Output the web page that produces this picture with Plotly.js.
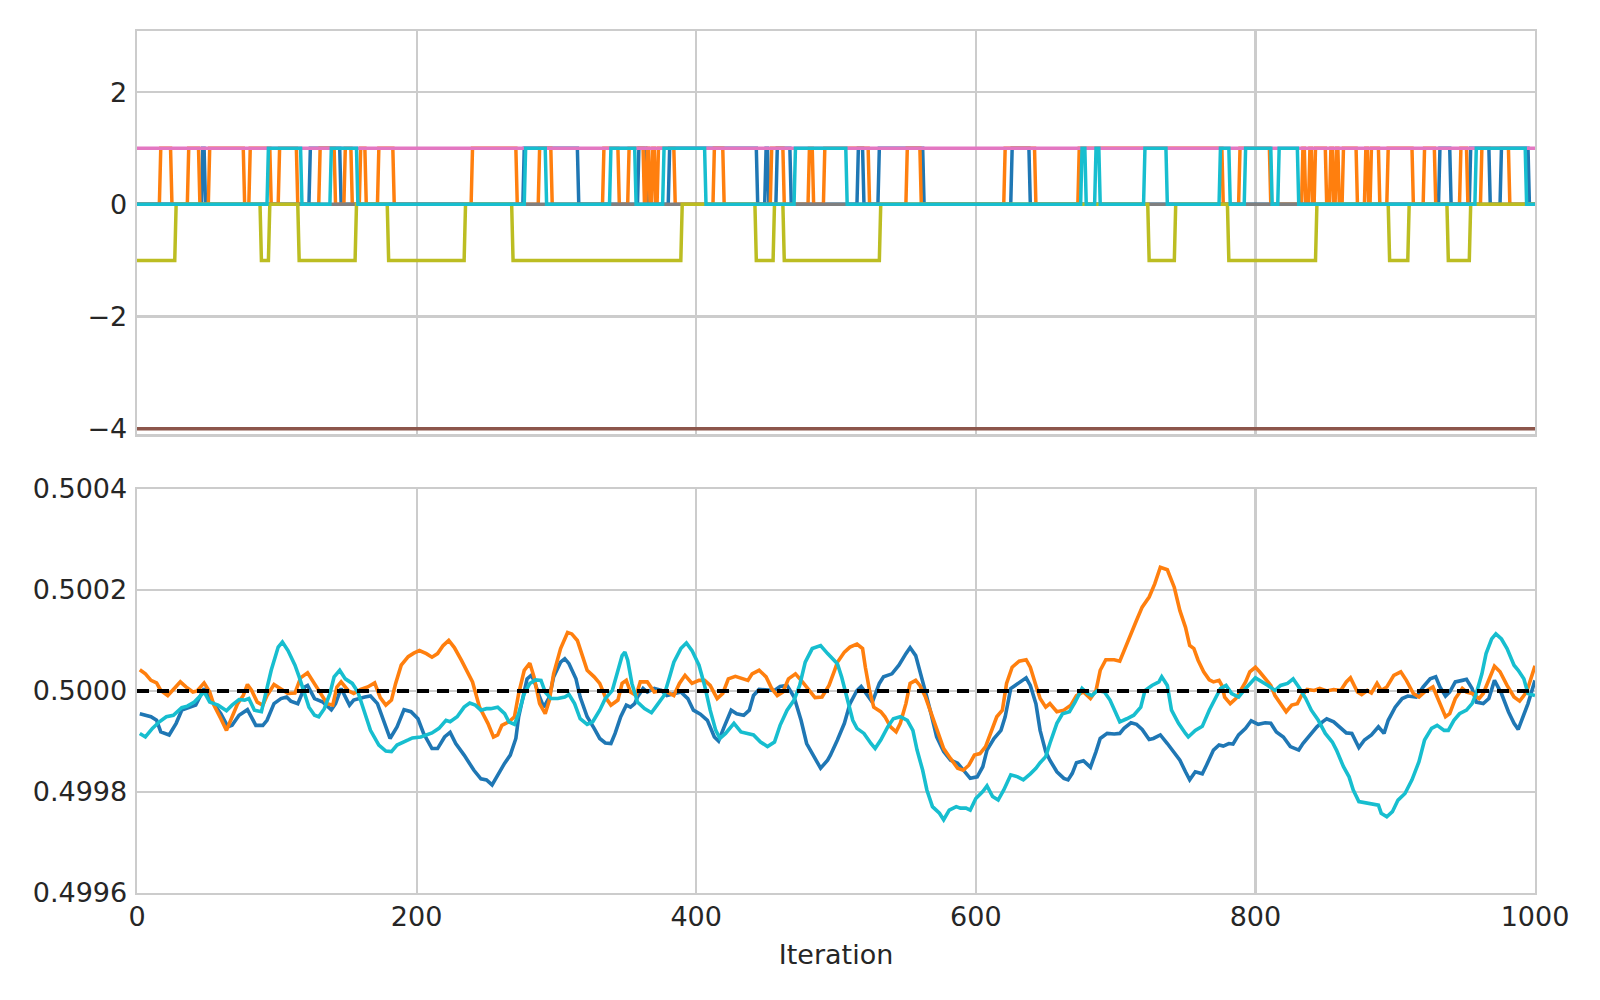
<!DOCTYPE html>
<html>
<head>
<meta charset="utf-8">
<script src="https://cdn.plot.ly/plotly-3.0.1.min.js"></script>
<style>html,body{margin:0;padding:0;background:#fff;}#chart{width:1600px;height:1000px;}</style>
</head>
<body>
<div id="chart"></div>
<script>
// ---------------- data ----------------
const nIter = 1000;
const xTickVals = [0, 200, 400, 600, 800, 1000];
const xTickText = ['0', '200', '400', '600', '800', '1000'];
const topTickVals = [-4, -2, 0, 2];
const topTickText = ['\u22124', '\u22122', '0', '2'];
const botTickVals = [0.4996, 0.4998, 0.5000, 0.5002, 0.5004];
const botTickText = ['0.4996', '0.4998', '0.5000', '0.5002', '0.5004'];
const xAxisTitle = 'Iteration';

// top panel: step chains
const blueFlips = [47, 49, 124, 146, 277, 316, 359, 365, 381, 444, 450, 452, 458, 468, 516, 520, 531, 563, 626, 639, 932, 940, 954, 968, 976, 996];
const orangeFlips = [17, 25, 37, 45, 52, 77, 81, 96, 102, 115, 131, 142, 149, 154, 160, 164, 173, 184, 240, 272, 288, 297, 334, 345, 352, 363, 365, 367, 369, 371, 373, 385, 413, 420, 454, 463, 481, 484, 492, 524, 551, 561, 621, 643, 674, 777, 789, 811, 834, 836, 839, 841, 843, 851, 854, 856, 858, 860, 863, 873, 879, 881, 883, 889, 895, 913, 921, 929, 947, 952, 962, 982];
const brownLevel = -4;
const pinkLevel = 1;
const grayLevel = 0;
const oliveLow = [[0, 27], [89, 94], [116, 156], [180, 234], [269, 389], [443, 455], [463, 531], [724, 742], [781, 843], [896, 909], [938, 953]];
const cyanHigh = [[94, 117], [139, 157], [278, 292], [339, 356], [377, 406], [471, 507], [676, 678], [686, 688], [721, 736], [775, 781], [793, 811], [817, 830], [958, 993]];

// bottom panel: running values
const blueIter = [2,10,14,17,23,28,32,40,42,48,53,60,65,68,73,79,85,90,93,98,103,107,110,115,120,122,127,133,139,142,146,152,155,163,167,172,177,181,186,191,196,201,205,211,215,220,224,228,234,241,246,250,254,258,263,267,271,273,276,279,282,284,288,291,295,298,303,306,309,314,317,322,327,331,335,339,342,346,350,353,356,358,362,365,370,375,379,384,389,394,398,403,408,413,416,420,425,429,434,438,441,445,451,456,460,465,470,475,479,484,489,494,496,501,506,510,515,518,521,526,531,534,540,545,550,553,557,560,564,568,572,577,582,587,591,596,601,605,608,613,618,621,625,630,636,639,643,646,650,653,658,663,666,669,672,677,682,686,689,694,699,703,706,711,715,719,724,727,732,737,742,746,750,753,757,762,765,770,774,777,781,784,788,793,797,802,807,811,815,820,825,831,834,839,844,848,851,856,861,865,869,874,878,883,888,892,895,900,905,909,915,920,925,929,932,936,939,943,948,951,955,958,963,967,971,976,981,985,988,992,995,1000];
const blueVal = [0.499955,0.499949,0.499942,0.499919,0.499913,0.499936,0.499962,0.499970,0.499972,0.500005,0.499982,0.499955,0.499929,0.499932,0.499952,0.499963,0.499932,0.499932,0.499942,0.499975,0.499985,0.499988,0.499980,0.499975,0.500008,0.500011,0.499985,0.499978,0.499963,0.499975,0.500005,0.499972,0.499982,0.499988,0.499990,0.499975,0.499936,0.499906,0.499929,0.499963,0.499959,0.499945,0.499916,0.499886,0.499886,0.499909,0.499918,0.499896,0.499873,0.499843,0.499826,0.499824,0.499814,0.499834,0.499857,0.499873,0.499906,0.499949,0.499991,0.500024,0.500031,0.500021,0.499988,0.499968,0.499988,0.500028,0.500057,0.500064,0.500054,0.500024,0.499988,0.499949,0.499926,0.499906,0.499897,0.499896,0.499916,0.499949,0.499972,0.499968,0.499975,0.499988,0.500005,0.499998,0.500005,0.500001,0.499991,0.499995,0.499998,0.499985,0.499962,0.499954,0.499942,0.499909,0.499901,0.499929,0.499962,0.499955,0.499952,0.499962,0.499991,0.500003,0.500001,0.500001,0.500009,0.500011,0.499988,0.499942,0.499896,0.499870,0.499847,0.499863,0.499873,0.499903,0.499936,0.499975,0.500001,0.500009,0.499998,0.499978,0.500015,0.500028,0.500034,0.500051,0.500074,0.500086,0.500070,0.500041,0.499998,0.499955,0.499909,0.499880,0.499863,0.499857,0.499843,0.499827,0.499830,0.499850,0.499883,0.499906,0.499922,0.499949,0.500005,0.500015,0.500026,0.500011,0.499975,0.499922,0.499880,0.499863,0.499840,0.499827,0.499824,0.499837,0.499858,0.499862,0.499849,0.499880,0.499906,0.499916,0.499915,0.499916,0.499926,0.499937,0.499934,0.499924,0.499904,0.499906,0.499913,0.499896,0.499876,0.499863,0.499840,0.499824,0.499840,0.499836,0.499853,0.499883,0.499893,0.499891,0.499896,0.499895,0.499913,0.499926,0.499941,0.499934,0.499937,0.499936,0.499919,0.499909,0.499890,0.499883,0.499896,0.499913,0.499929,0.499939,0.499945,0.499939,0.499926,0.499917,0.499916,0.499888,0.499903,0.499913,0.499929,0.499916,0.499942,0.499968,0.499985,0.499990,0.499988,0.500008,0.500024,0.500028,0.500008,0.499990,0.499998,0.500018,0.500021,0.500023,0.500005,0.499978,0.499975,0.499985,0.500021,0.499995,0.499959,0.499936,0.499924,0.499952,0.499975,0.500021];

const orangeIter = [2,6,10,14,17,22,26,31,35,40,43,48,52,55,60,64,67,72,76,79,82,86,90,93,98,103,108,113,117,122,127,132,136,140,143,146,151,155,160,165,170,174,178,182,185,189,194,198,202,207,211,215,219,223,227,232,236,240,245,251,255,258,261,266,270,273,277,281,284,288,292,295,298,303,308,311,315,319,322,327,331,335,339,344,347,350,353,357,360,365,370,375,379,384,388,392,397,402,406,410,415,419,423,428,433,437,440,445,450,454,458,462,466,471,476,481,485,490,495,499,501,506,510,515,519,521,524,527,532,535,539,543,546,550,553,557,560,564,568,572,577,582,587,591,595,599,603,607,611,615,619,622,626,631,636,639,643,646,650,653,658,663,668,672,677,682,686,689,693,699,703,707,711,715,719,724,728,732,737,742,746,750,753,756,759,763,767,770,774,776,778,782,786,789,793,796,800,803,807,811,814,818,822,826,830,833,837,842,846,851,856,861,865,868,873,876,880,883,887,890,894,899,904,908,913,917,921,927,931,936,939,943,948,951,955,960,963,967,971,975,980,985,989,994,998,1000];
const orangeVal = [0.500042,0.500034,0.500021,0.500016,0.500001,0.499991,0.500003,0.500018,0.500008,0.499998,0.500000,0.500016,0.499998,0.499972,0.499945,0.499922,0.499942,0.499975,0.499991,0.500013,0.500001,0.499978,0.499972,0.499991,0.500013,0.500003,0.499995,0.499996,0.500026,0.500036,0.500015,0.499991,0.499975,0.499972,0.500008,0.500018,0.500001,0.499995,0.500003,0.500008,0.500016,0.499987,0.499972,0.499982,0.500015,0.500051,0.500068,0.500075,0.500080,0.500074,0.500067,0.500074,0.500090,0.500100,0.500086,0.500061,0.500038,0.500018,0.499968,0.499936,0.499909,0.499913,0.499932,0.499939,0.499949,0.499995,0.500041,0.500055,0.500028,0.499975,0.499955,0.499982,0.500034,0.500084,0.500116,0.500113,0.500100,0.500067,0.500041,0.500028,0.500015,0.499988,0.499972,0.499982,0.500015,0.500021,0.499998,0.499991,0.500018,0.500018,0.499998,0.500001,0.499998,0.499991,0.500015,0.500031,0.500015,0.500021,0.500021,0.500011,0.499985,0.499995,0.500024,0.500029,0.500024,0.500021,0.500034,0.500041,0.500028,0.500005,0.499991,0.499998,0.500024,0.500034,0.500018,0.500000,0.499987,0.499988,0.500011,0.500041,0.500057,0.500077,0.500087,0.500093,0.500084,0.500047,0.500001,0.499968,0.499959,0.499949,0.499929,0.499919,0.499936,0.499975,0.500015,0.500021,0.500011,0.499988,0.499955,0.499922,0.499886,0.499866,0.499847,0.499843,0.499853,0.499873,0.499876,0.499890,0.499922,0.499949,0.499962,0.500015,0.500047,0.500059,0.500062,0.500047,0.500011,0.499985,0.499968,0.499975,0.499959,0.499962,0.499972,0.499991,0.499998,0.499985,0.500001,0.500041,0.500062,0.500062,0.500059,0.500087,0.500113,0.500140,0.500166,0.500186,0.500212,0.500245,0.500240,0.500205,0.500159,0.500126,0.500090,0.500084,0.500061,0.500038,0.500022,0.500018,0.500021,0.500011,0.499988,0.499975,0.499985,0.499998,0.500018,0.500038,0.500047,0.500038,0.500024,0.500011,0.499991,0.499975,0.499959,0.499972,0.499975,0.499991,0.500003,0.500001,0.500005,0.500000,0.500003,0.500001,0.500018,0.500026,0.499998,0.499993,0.500001,0.499996,0.500015,0.500001,0.500008,0.500031,0.500038,0.500021,0.499995,0.499988,0.499998,0.500008,0.499982,0.499949,0.499955,0.499985,0.500005,0.499998,0.499995,0.499985,0.499995,0.500021,0.500049,0.500038,0.500011,0.499988,0.499980,0.499998,0.500034,0.500050];

const cyanIter = [2,6,11,16,21,26,32,36,41,45,48,52,58,64,68,73,77,80,84,89,92,96,101,104,108,113,116,120,123,127,130,134,138,141,145,149,154,158,163,167,173,178,182,186,194,197,203,208,211,216,221,224,229,234,238,242,246,250,253,258,263,266,270,273,277,281,285,289,292,296,301,306,309,313,317,322,326,331,335,340,344,347,349,351,354,358,363,368,372,377,381,384,389,393,397,402,406,410,414,417,421,427,432,437,441,446,451,456,460,465,470,474,478,483,489,494,497,501,504,508,512,515,520,525,528,532,537,541,546,551,555,558,562,565,569,574,577,581,586,589,593,596,600,605,608,612,616,620,625,630,634,639,643,646,650,653,658,662,667,671,676,680,683,687,692,696,700,703,708,713,718,721,726,731,733,737,740,745,750,752,757,762,767,771,775,779,783,788,793,800,805,809,814,818,823,827,831,836,840,845,850,855,858,863,867,870,874,879,883,888,890,894,898,902,907,912,917,921,926,930,935,938,942,946,951,955,958,962,965,969,972,976,980,985,988,992,995,1000];
const cyanVal = [0.499916,0.499909,0.499926,0.499939,0.499949,0.499952,0.499967,0.499970,0.499978,0.499990,0.499998,0.499978,0.499972,0.499961,0.499972,0.499983,0.499982,0.499985,0.499962,0.499959,0.499995,0.500041,0.500087,0.500097,0.500080,0.500051,0.500028,0.499995,0.499968,0.499952,0.499949,0.499965,0.499995,0.500028,0.500041,0.500024,0.500015,0.499998,0.499955,0.499922,0.499893,0.499881,0.499880,0.499893,0.499903,0.499907,0.499909,0.499913,0.499917,0.499926,0.499942,0.499939,0.499949,0.499968,0.499976,0.499972,0.499962,0.499965,0.499965,0.499968,0.499955,0.499939,0.499934,0.499955,0.499995,0.500015,0.500022,0.500021,0.499998,0.499985,0.499985,0.499988,0.499993,0.499975,0.499945,0.499934,0.499939,0.499962,0.499985,0.500001,0.500041,0.500070,0.500077,0.500061,0.500015,0.499978,0.499965,0.499957,0.499972,0.499991,0.500028,0.500057,0.500084,0.500095,0.500080,0.500051,0.500011,0.499962,0.499922,0.499906,0.499916,0.499936,0.499919,0.499916,0.499913,0.499899,0.499890,0.499899,0.499932,0.499962,0.499982,0.500011,0.500057,0.500084,0.500090,0.500074,0.500066,0.500054,0.500028,0.499982,0.499942,0.499926,0.499916,0.499896,0.499886,0.499903,0.499929,0.499945,0.499949,0.499942,0.499922,0.499883,0.499843,0.499804,0.499771,0.499758,0.499745,0.499764,0.499771,0.499768,0.499768,0.499764,0.499787,0.499801,0.499812,0.499791,0.499784,0.499804,0.499834,0.499830,0.499824,0.499836,0.499847,0.499858,0.499870,0.499896,0.499936,0.499955,0.499959,0.499978,0.500005,0.499995,0.499991,0.500001,0.499998,0.499982,0.499955,0.499939,0.499945,0.499952,0.499968,0.500001,0.500011,0.500018,0.500028,0.500011,0.499962,0.499936,0.499916,0.499909,0.499922,0.499930,0.499962,0.499982,0.500005,0.500011,0.499995,0.499988,0.500005,0.500026,0.500018,0.500011,0.500001,0.500011,0.500015,0.500024,0.500008,0.499985,0.499962,0.499942,0.499916,0.499899,0.499883,0.499850,0.499830,0.499804,0.499781,0.499778,0.499776,0.499774,0.499758,0.499751,0.499761,0.499784,0.499797,0.499824,0.499860,0.499903,0.499926,0.499932,0.499922,0.499922,0.499942,0.499955,0.499962,0.499975,0.499995,0.500034,0.500074,0.500103,0.500113,0.500103,0.500084,0.500051,0.500041,0.500024,0.499995,0.499991];

const referenceValue = 0.5;

// ---------------- build step arrays from the read-off transitions ----------------
const iters = [];
for (let i = 0; i <= nIter; i++) iters.push(i);

function fromFlips(flips, lo, hi) {
  const out = [];
  let k = 0, state = lo;
  for (const i of iters) {
    while (k < flips.length && flips[k] <= i) { state = (state === lo) ? hi : lo; k++; }
    out.push(state);
  }
  return out;
}
function fromIntervals(intervals, inside, outside) {
  return iters.map(i => intervals.some(([a, b]) => i >= a && i <= b) ? inside : outside);
}
const constant = v => iters.map(() => v);

const C = {
  blue: '#1f77b4', orange: '#ff7f0e', brown: '#8c564b', pink: '#e377c2',
  gray: '#7f7f7f', olive: '#bcbd22', cyan: '#17becf'
};
const wTop = 3.5, wBot = 3.6;

function stepTrace(y, color) {
  return { x: iters, y: y, xaxis: 'x2', yaxis: 'y2', type: 'scatter', mode: 'lines',
           line: { color: color, width: wTop }, hoverinfo: 'skip' };
}
function lineTrace(x, y, color) {
  return { x: x, y: y, xaxis: 'x', yaxis: 'y', type: 'scatter', mode: 'lines',
           line: { color: color, width: wBot }, hoverinfo: 'skip' };
}

const traces = [
  stepTrace(fromFlips(blueFlips, 0, 1), C.blue),
  stepTrace(fromFlips(orangeFlips, 0, 1), C.orange),
  stepTrace(constant(brownLevel), C.brown),
  stepTrace(constant(pinkLevel), C.pink),
  stepTrace(constant(grayLevel), C.gray),
  stepTrace(fromIntervals(oliveLow, -1, 0), C.olive),
  stepTrace(fromIntervals(cyanHigh, 1, 0), C.cyan),
  lineTrace(blueIter, blueVal, C.blue),
  lineTrace(orangeIter, orangeVal, C.orange),
  lineTrace(cyanIter, cyanVal, C.cyan),
  { x: [iters[0], iters[iters.length - 1]], y: [referenceValue, referenceValue], xaxis: 'x', yaxis: 'y',
    type: 'scatter', mode: 'lines', line: { color: '#000000', width: 3.8, dash: '12px,8px' }, hoverinfo: 'skip' }
];

const FONT = 'DejaVu Sans, Liberation Sans, sans-serif';
const tickFont = { family: FONT, size: 27, color: '#262626' };
const axBase = {
  showline: true, linecolor: '#cccccc', linewidth: 2.4, mirror: true,
  showgrid: true, gridcolor: '#cccccc', gridwidth: 2.2,
  zeroline: false, ticks: '', tickfont: tickFont, fixedrange: true
};

const layout = {
  width: 1600, height: 1000,
  paper_bgcolor: '#ffffff', plot_bgcolor: '#ffffff',
  margin: { l: 137, r: 65, t: 31, b: 107 },
  showlegend: false,
  font: { family: FONT, color: '#262626' },
  xaxis: Object.assign({}, axBase, {
    domain: [0, 1], anchor: 'y', range: [0, nIter],
    tickmode: 'array', tickvals: xTickVals, ticktext: xTickText, ticklabelstandoff: -2,
    title: { text: xAxisTitle, font: { family: FONT, size: 27, color: '#262626' }, standoff: 15 }
  }),
  yaxis: Object.assign({}, axBase, {
    domain: [0, 0.4687], anchor: 'x', range: [0.4996, 0.5004],
    tickmode: 'array', tickvals: botTickVals, ticktext: botTickText, ticklabelstandoff: 2
  }),
  xaxis2: Object.assign({}, axBase, {
    domain: [0, 1], anchor: 'y2', range: [0, nIter], matches: 'x',
    tickmode: 'array', tickvals: xTickVals, showticklabels: false
  }),
  yaxis2: Object.assign({}, axBase, {
    domain: [0.5321, 1], anchor: 'x2', range: [-4.1, 3.09],
    tickmode: 'array', tickvals: topTickVals, ticktext: topTickText, ticklabelstandoff: 2
  })
};

Plotly.newPlot('chart', traces, layout, { staticPlot: true, displayModeBar: false });
</script>
</body>
</html>
